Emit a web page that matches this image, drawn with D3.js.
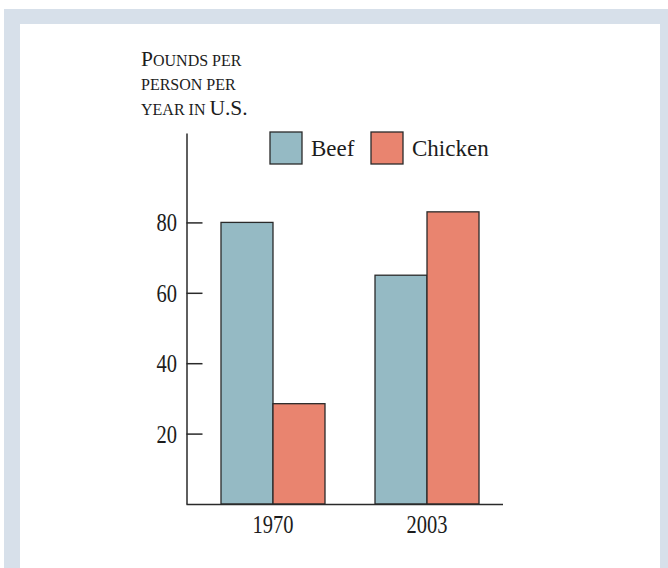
<!DOCTYPE html>
<html>
<head>
<meta charset="utf-8">
<script src="https://cdn.jsdelivr.net/npm/d3@7"></script>
<style>
  html, body { margin: 0; padding: 0; background: #fff; }
  svg { display: block; }
  text { font-family: "Liberation Serif", "DejaVu Serif", serif; fill: #1c1c1c; }
</style>
</head>
<body>
<svg id="chart" width="668" height="568"></svg>
<script>
// ---- data ----
const years = ["1970", "2003"];
const seriesNames = ["Beef", "Chicken"];
const beef = [80, 65];
const chicken = [28.5, 83];
const yTicks = [20, 40, 60, 80];
const titleLines = [
  [["P", "big"], ["OUNDS PER", "small"]],
  [["PERSON PER", "small"]],
  [["YEAR IN ", "small"], ["U.S.", "big"]]
];
const colors = ["#95bac4", "#e9846f"];

// ---- layout ----
const svg = d3.select("#chart");
const W = 668, H = 568;
const SX = 0.82; // horizontal condensing of the numeric font

// frame
svg.append("rect").attr("x", 4).attr("y", 9).attr("width", W - 4).attr("height", H - 9)
  .attr("fill", "#d7e0ea");
svg.append("rect").attr("x", 20).attr("y", 24).attr("width", 640).attr("height", H - 24)
  .attr("fill", "#ffffff");

const axisX = 186.5;
const y = d3.scaleLinear().domain([0, 105.4]).range([504, 133]);
const x0 = d3.scaleBand().domain(years).range([196, 504]).paddingInner(0.3247).paddingOuter(0.1623);
const x1 = d3.scaleBand().domain(seriesNames).range([0, x0.bandwidth()]);
const color = d3.scaleOrdinal().domain(seriesNames).range(colors);

const rows = years.map((yr, i) => ({ year: yr, values: [
  { key: "Beef", value: beef[i] },
  { key: "Chicken", value: chicken[i] }
]}));

// bars
const groups = svg.append("g").selectAll("g").data(rows).join("g")
  .attr("transform", d => `translate(${x0(d.year)},0)`);
groups.selectAll("rect").data(d => d.values).join("rect")
  .attr("x", d => x1(d.key))
  .attr("y", d => y(d.value))
  .attr("width", x1.bandwidth())
  .attr("height", d => y(0) - y(d.value))
  .attr("fill", d => color(d.key))
  .attr("stroke", "#2a2a2a")
  .attr("stroke-width", 1.3);

// y axis
const yAxis = d3.axisLeft(y).tickValues(yTicks).tickSizeInner(-16).tickSizeOuter(0).tickPadding(9.5);
const gy = svg.append("g").attr("transform", `translate(${axisX},0)`).call(yAxis);
gy.select(".domain").attr("stroke", "#2a2a2a").attr("stroke-width", 1.5);
gy.selectAll(".tick line").attr("stroke", "#2a2a2a").attr("stroke-width", 1.5);
gy.selectAll(".tick text")
  .attr("font-size", 25).attr("fill", "#1c1c1c").attr("dy", "0.34em")
  .attr("x", -9.5 / SX)
  .attr("transform", `scale(${SX},1)`);

// x axis
const xAxis = d3.axisBottom(x0).tickSize(0).tickPadding(11);
const gx = svg.append("g").attr("transform", `translate(0,${y(0)})`).call(xAxis);
gx.select(".domain").remove();
gx.selectAll(".tick text")
  .attr("font-size", 25).attr("fill", "#1c1c1c")
  .attr("transform", `scale(${SX},1)`);
svg.append("line").attr("x1", axisX).attr("x2", 503)
  .attr("y1", y(0) + 0.5).attr("y2", y(0) + 0.5)
  .attr("stroke", "#2a2a2a").attr("stroke-width", 1.5);

// title
const title = svg.append("g");
const titleBaselines = [66, 90, 115];
titleLines.forEach((parts, i) => {
  const t = title.append("text").attr("x", 141).attr("y", titleBaselines[i]);
  parts.forEach(p => {
    t.append("tspan").attr("font-size", p[1] === "big" ? 21.5 : 16).text(p[0]);
  });
});

// legend
const legendX = [270, 371];
const legend = svg.append("g").selectAll("g").data(seriesNames).join("g")
  .attr("transform", (d, i) => `translate(${legendX[i]},132)`);
legend.append("rect").attr("width", 32).attr("height", 32)
  .attr("fill", d => color(d)).attr("stroke", "#2a2a2a").attr("stroke-width", 1.3);
legend.append("text").attr("x", 41).attr("y", 23.5).attr("font-size", 23).text(d => d);
</script>
</body>
</html>
